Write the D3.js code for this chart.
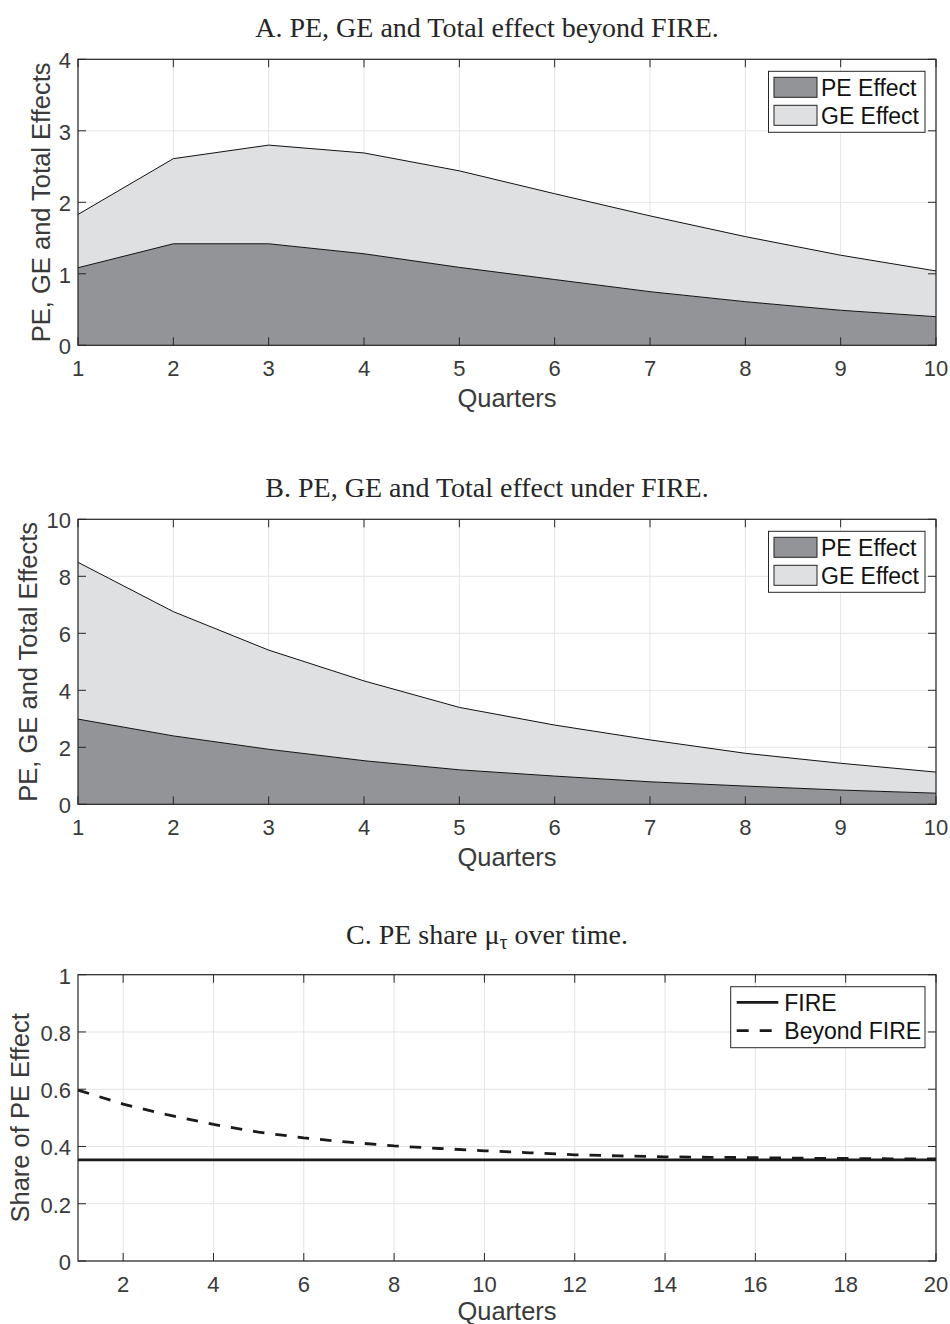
<!DOCTYPE html>
<html><head><meta charset="utf-8">
<script src="https://cdn.jsdelivr.net/npm/d3@7"></script>
<style>body{margin:0;background:#fff}</style>
</head><body>
<svg id="chart" width="950" height="1324"></svg>
<script>
// ---- data ----
const quartersAB = [1,2,3,4,5,6,7,8,9,10];
const peBeyond = [1.085,1.42,1.42,1.28,1.09,0.92,0.75,0.61,0.49,0.40];
const geBeyond = [0.745,1.19,1.38,1.41,1.35,1.20,1.06,0.91,0.77,0.64];
const peFire = [2.99,2.40,1.93,1.53,1.21,0.99,0.79,0.64,0.50,0.39];
const geFire = [5.50,4.36,3.48,2.80,2.19,1.79,1.47,1.15,0.94,0.74];
const quartersC = [1,2,3,4,5,6,7,8,9,10,11,12,13,14,15,16,17,18,19,20];
const shareFire = [0.353,0.353,0.353,0.353,0.353,0.353,0.353,0.353,0.353,0.353,0.353,0.353,0.353,0.353,0.353,0.353,0.353,0.353,0.353,0.353];
const shareBeyond = [0.597,0.548,0.51,0.477,0.45,0.43,0.415,0.402,0.393,0.385,0.378,0.371,0.367,0.364,0.362,0.361,0.359,0.358,0.357,0.357];
const ticksA_y = [0,1,2,3,4];
const ticksB_y = [0,2,4,6,8,10];
const ticksC_y = [0,0.2,0.4,0.6,0.8,1];
const ticksAB_x = [1,2,3,4,5,6,7,8,9,10];
const ticksC_x = [2,4,6,8,10,12,14,16,18,20];
const areaKeys = ["PE Effect","GE Effect"];
const lineKeys = ["FIRE","Beyond FIRE"];

const svg = d3.select("#chart");
const L = 78, R = 936;
const axisColor = "#262626", textColor = "#3a3a3a", gridColor = "#e4e4e4";
const peColor = "#939497", geColor = "#dfe0e2";
const sans = "'Liberation Sans', Arial, sans-serif";
const serif = "'Liberation Serif', 'Times New Roman', serif";
const tickFont = 22, labelFont = 25.5, legendFont = 23, titleFont = 28;

function frame(top, bottom, xDomain, yDomain, xTicks, yTicks, yLabel, yLabelX, yFmt) {
  const x = d3.scaleLinear().domain(xDomain).range([L, R]);
  const y = d3.scaleLinear().domain(yDomain).range([bottom, top]);
  const g = svg.append("g");
  g.selectAll(".gx").data(xTicks).join("line")
    .attr("x1", d => x(d)).attr("x2", d => x(d)).attr("y1", top).attr("y2", bottom)
    .attr("stroke", gridColor).attr("stroke-width", 1);
  g.selectAll(".gy").data(yTicks).join("line")
    .attr("x1", L).attr("x2", R).attr("y1", d => y(d)).attr("y2", d => y(d))
    .attr("stroke", gridColor).attr("stroke-width", 1);
  return {x, y, g, top, bottom, xTicks, yTicks, yLabel, yLabelX, yFmt};
}

function axes(f, xLabelY) {
  const {x, y, top, bottom, xTicks, yTicks} = f;
  const g = svg.append("g");
  const tl = 8;
  xTicks.forEach(t => {
    g.append("line").attr("x1", x(t)).attr("x2", x(t)).attr("y1", bottom).attr("y2", bottom - tl).attr("stroke", axisColor);
    g.append("line").attr("x1", x(t)).attr("x2", x(t)).attr("y1", top).attr("y2", top + tl).attr("stroke", axisColor);
  });
  yTicks.forEach(t => {
    g.append("line").attr("x1", L).attr("x2", L + tl).attr("y1", y(t)).attr("y2", y(t)).attr("stroke", axisColor);
    g.append("line").attr("x1", R).attr("x2", R - tl).attr("y1", y(t)).attr("y2", y(t)).attr("stroke", axisColor);
  });
  g.append("rect").attr("x", L).attr("y", top).attr("width", R - L).attr("height", bottom - top)
    .attr("fill", "none").attr("stroke", axisColor).attr("stroke-width", 1.2);
  g.selectAll(".xl").data(xTicks).join("text")
    .attr("x", d => x(d)).attr("y", bottom + 31).attr("text-anchor", "middle")
    .attr("font-family", sans).attr("font-size", tickFont).attr("fill", textColor).text(d => d);
  g.selectAll(".yl").data(yTicks).join("text")
    .attr("x", L - 7).attr("y", d => y(d) + 9).attr("text-anchor", "end")
    .attr("font-family", sans).attr("font-size", tickFont).attr("fill", textColor).text(f.yFmt);
  g.append("text").attr("x", (L + R) / 2).attr("y", xLabelY).attr("text-anchor", "middle")
    .attr("font-family", sans).attr("font-size", labelFont).attr("fill", textColor).text("Quarters");
  g.append("text").attr("transform", `translate(${f.yLabelX},${(top + bottom) / 2}) rotate(-90)`)
    .attr("text-anchor", "middle").attr("font-family", sans).attr("font-size", labelFont).attr("fill", textColor)
    .text(f.yLabel);
}

function title(txt, yBase) {
  return svg.append("text").attr("x", 487).attr("y", yBase).attr("text-anchor", "middle")
    .attr("font-family", serif).attr("font-size", titleFont).attr("fill", "#262626").text(txt);
}

function areaPanel(top, bottom, yMax, yTicks, pe, ge, yLabelX) {
  const f = frame(top, bottom, [1, 10], [0, yMax], ticksAB_x, yTicks, "PE, GE and Total Effects", yLabelX, d => d);
  const rows = quartersAB.map((q, i) => ({q, "PE Effect": pe[i], "GE Effect": ge[i]}));
  const stack = d3.stack().keys(areaKeys)(rows);
  const area = d3.area().x(d => f.x(d.data.q)).y0(d => f.y(d[0])).y1(d => f.y(d[1]));
  const line = d3.line().x(d => f.x(d.data.q)).y(d => f.y(d[1]));
  const colors = [peColor, geColor];
  stack.forEach((s, i) => {
    f.g.append("path").datum(s).attr("d", area).attr("fill", colors[i]);
  });
  stack.forEach((s, i) => {
    f.g.append("path").datum(s).attr("d", line).attr("fill", "none").attr("stroke", "#111").attr("stroke-width", 1);
  });
  const lg = svg.append("g");
  const lx = 768.5, ly = top + 12;
  lg.append("rect").attr("x", lx).attr("y", ly).attr("width", 156.5).attr("height", 61)
    .attr("fill", "#fff").attr("stroke", "#262626").attr("stroke-width", 1);
  areaKeys.forEach((k, i) => {
    lg.append("rect").attr("x", 774).attr("y", ly + 6 + i * 28).attr("width", 43).attr("height", 20)
      .attr("fill", colors[i]).attr("stroke", "#222").attr("stroke-width", 1);
    lg.append("text").attr("x", 821).attr("y", ly + 24.5 + i * 28).attr("font-family", sans)
      .attr("font-size", legendFont).attr("fill", "#111").text(k);
  });
  return f;
}

// Panel A
title("A. PE, GE and Total effect beyond FIRE.", 37);
const fA = areaPanel(59.3, 345.3, 4, ticksA_y, peBeyond, geBeyond, 49.5);
axes(fA, 407);

// Panel B
title("B. PE, GE and Total effect under FIRE.", 497);
const fB = areaPanel(519.3, 804.3, 10, ticksB_y, peFire, geFire, 36.5);
axes(fB, 866);

// Panel C
const tC = svg.append("text").attr("x", 487).attr("y", 944).attr("text-anchor", "middle")
  .attr("font-family", serif).attr("font-size", titleFont).attr("fill", "#262626");
tC.append("tspan").text("C. PE share \u03bc");
tC.append("tspan").attr("dy", 5).attr("font-size", 20).text("\u03c4");
tC.append("tspan").attr("dy", -5).text(" over time.");

const fC = frame(974.7, 1261, [1, 20], [0, 1], ticksC_x, ticksC_y, "Share of PE Effect", 29, d => d3.format("")(d));
const lineC = d3.line().x((d, i) => fC.x(quartersC[i])).y(d => fC.y(d));
fC.g.append("path").datum(shareFire).attr("d", lineC).attr("fill", "none").attr("stroke", "#1a1a1a").attr("stroke-width", 2.8);
fC.g.append("path").datum(shareBeyond).attr("d", lineC).attr("fill", "none").attr("stroke", "#1a1a1a")
  .attr("stroke-width", 2.8).attr("stroke-dasharray", "11.5,11");
axes(fC, 1320);
const lgC = svg.append("g");
lgC.append("rect").attr("x", 730.7).attr("y", 986.7).attr("width", 194.3).attr("height", 61)
  .attr("fill", "#fff").attr("stroke", "#262626").attr("stroke-width", 1);
lineKeys.forEach((k, i) => {
  lgC.append("line").attr("x1", 736.7).attr("x2", 778.3).attr("y1", 1002.3 + i * 28.4).attr("y2", 1002.3 + i * 28.4)
    .attr("stroke", "#1a1a1a").attr("stroke-width", 2.8).attr("stroke-dasharray", i ? "12,11" : null);
  lgC.append("text").attr("x", 784.3).attr("y", 1010.5 + i * 28.4).attr("font-family", sans)
    .attr("font-size", legendFont).attr("fill", "#111").text(k);
});
</script>
</body></html>
